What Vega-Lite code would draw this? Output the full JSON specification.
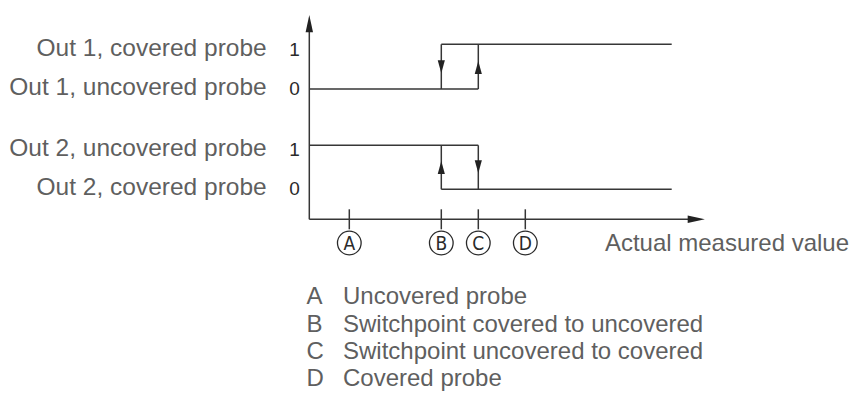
{
  "$schema": "https://vega.github.io/schema/vega-lite/v6.json",
  "width": 853,
  "height": 394,
  "autosize": {"type": "fit", "contains": "padding"},
  "padding": 0,
  "background": "white",
  "config": {"view": {"stroke": null}, "text": {"font": "Liberation Sans"}},
  "datasets": {
    "segments": [
      {"part": "Out 1 low", "x": 0, "x2": 4.225, "y": 13.03, "y2": 13.03},
      {"part": "Out 1 high", "x": 3.3, "x2": 9.06, "y": 17.5, "y2": 17.5},
      {"part": "Out 1 B", "x": 3.3, "x2": 3.3, "y": 13.03, "y2": 17.5},
      {"part": "Out 1 C", "x": 4.225, "x2": 4.225, "y": 13.03, "y2": 17.5},
      {"part": "Out 2 high", "x": 0, "x2": 4.225, "y": 7.4, "y2": 7.4},
      {"part": "Out 2 low", "x": 3.3, "x2": 9.06, "y": 3.0, "y2": 3.0},
      {"part": "Out 2 B", "x": 3.3, "x2": 3.3, "y": 3.0, "y2": 7.4},
      {"part": "Out 2 C", "x": 4.225, "x2": 4.225, "y": 3.0, "y2": 7.4},
      {"part": "y axis", "x": 0, "x2": 0, "y": 0, "y2": 19.6},
      {"part": "x axis", "x": 0, "x2": 9.6, "y": 0, "y2": 0},
      {"part": "tick A", "x": 1.0, "x2": 1.0, "y": -1.0, "y2": 1.0},
      {"part": "tick B", "x": 3.3, "x2": 3.3, "y": -1.0, "y2": 1.0},
      {"part": "tick C", "x": 4.225, "x2": 4.225, "y": -1.0, "y2": 1.0},
      {"part": "tick D", "x": 5.4, "x2": 5.4, "y": -1.0, "y2": 1.0}
    ],
    "arrows": [
      {"x": 0, "y": 20.43, "dir": "axis-up"},
      {"x": 9.89, "y": 0, "dir": "axis-right"},
      {"x": 3.3, "y": 14.6, "dir": "down"},
      {"x": 4.225, "y": 15.83, "dir": "up"},
      {"x": 3.3, "y": 5.83, "dir": "up"},
      {"x": 4.225, "y": 4.6, "dir": "down"}
    ],
    "levels": [
      {"label": "Out 1, covered probe", "bit": "1", "y": 16.33},
      {"label": "Out 1, uncovered probe", "bit": "0", "y": 12.43},
      {"label": "Out 2, uncovered probe", "bit": "1", "y": 6.33},
      {"label": "Out 2, covered probe", "bit": "0", "y": 2.43}
    ],
    "points": [
      {"point": "A", "x": 1.0},
      {"point": "B", "x": 3.3},
      {"point": "C", "x": 4.225},
      {"point": "D", "x": 5.4}
    ],
    "title": [{"title": "Actual measured value"}],
    "legend": [
      {"letter": "A", "description": "Uncovered probe", "y": -8.45},
      {"letter": "B", "description": "Switchpoint covered to uncovered", "y": -11.24},
      {"letter": "C", "description": "Switchpoint uncovered to covered", "y": -13.99},
      {"letter": "D", "description": "Covered probe", "y": -16.66}
    ]
  },
  "layer": [
    {
      "data": {"name": "segments"},
      "mark": {"type": "rule", "color": "#363636", "strokeWidth": 1.5},
      "encoding": {
        "x": {"field": "x", "type": "quantitative", "scale": {"domain": [-7.7325, 13.5925], "nice": false, "zero": false}, "axis": null},
        "x2": {"field": "x2"},
        "y": {"field": "y", "type": "quantitative", "scale": {"domain": [-17.47, 21.93], "nice": false, "zero": false}, "axis": null},
        "y2": {"field": "y2"}
      }
    },
    {
      "data": {"name": "arrows"},
      "mark": {"type": "point", "filled": true, "color": "#222222", "opacity": 1, "size": 169},
      "encoding": {
        "x": {"field": "x", "type": "quantitative", "scale": {"domain": [-7.7325, 13.5925], "nice": false, "zero": false}, "axis": null},
        "y": {"field": "y", "type": "quantitative", "scale": {"domain": [-17.47, 21.93], "nice": false, "zero": false}, "axis": null},
        "shape": {
          "field": "dir", "type": "nominal", "legend": null,
          "scale": {
            "domain": ["up", "down", "axis-up", "axis-right"],
            "range": ["M0,0L0.55,2L-0.55,2Z", "M0,0L0.55,-2L-0.55,-2Z", "M0,0L0.57,2.65L-0.57,2.65Z", "M0,0L-2.65,0.57L-2.65,-0.57Z"]
          }
        }
      }
    },
    {
      "data": {"name": "levels"},
      "mark": {"type": "text", "align": "right", "baseline": "alphabetic", "fontSize": 24.5, "color": "#5f5f5f"},
      "encoding": {
        "x": {"datum": -1.065, "type": "quantitative", "scale": {"domain": [-7.7325, 13.5925], "nice": false, "zero": false}, "axis": null},
        "y": {"field": "y", "type": "quantitative", "scale": {"domain": [-17.47, 21.93], "nice": false, "zero": false}, "axis": null},
        "text": {"field": "label"}
      }
    },
    {
      "data": {"name": "levels"},
      "mark": {"type": "text", "align": "center", "baseline": "alphabetic", "fontSize": 19, "color": "#2a2a2a"},
      "encoding": {
        "x": {"datum": -0.37, "type": "quantitative", "scale": {"domain": [-7.7325, 13.5925], "nice": false, "zero": false}, "axis": null},
        "y": {"field": "y", "type": "quantitative", "scale": {"domain": [-17.47, 21.93], "nice": false, "zero": false}, "axis": null},
        "text": {"field": "bit"}
      }
    },
    {
      "data": {"name": "points"},
      "mark": {"type": "point", "shape": "circle", "size": 560, "filled": false, "stroke": "#2a2a2a", "strokeWidth": 1.3, "opacity": 1},
      "encoding": {
        "x": {"field": "x", "type": "quantitative", "scale": {"domain": [-7.7325, 13.5925], "nice": false, "zero": false}, "axis": null},
        "y": {"datum": -2.37, "type": "quantitative", "scale": {"domain": [-17.47, 21.93], "nice": false, "zero": false}, "axis": null}
      }
    },
    {
      "data": {"name": "points"},
      "mark": {"type": "text", "align": "center", "baseline": "middle", "dy": 1, "fontSize": 19, "font": "DejaVu Sans Condensed", "color": "#2a2a2a"},
      "encoding": {
        "x": {"field": "x", "type": "quantitative", "scale": {"domain": [-7.7325, 13.5925], "nice": false, "zero": false}, "axis": null},
        "y": {"datum": -2.37, "type": "quantitative", "scale": {"domain": [-17.47, 21.93], "nice": false, "zero": false}, "axis": null},
        "text": {"field": "point"}
      }
    },
    {
      "data": {"name": "title"},
      "mark": {"type": "text", "align": "left", "baseline": "alphabetic", "fontSize": 24, "color": "#5f5f5f"},
      "encoding": {
        "x": {"datum": 7.39, "type": "quantitative", "scale": {"domain": [-7.7325, 13.5925], "nice": false, "zero": false}, "axis": null},
        "y": {"datum": -3.17, "type": "quantitative", "scale": {"domain": [-17.47, 21.93], "nice": false, "zero": false}, "axis": null},
        "text": {"field": "title"}
      }
    },
    {
      "data": {"name": "legend"},
      "mark": {"type": "text", "align": "left", "baseline": "alphabetic", "fontSize": 24, "color": "#5f5f5f"},
      "encoding": {
        "x": {"datum": -0.07, "type": "quantitative", "scale": {"domain": [-7.7325, 13.5925], "nice": false, "zero": false}, "axis": null},
        "y": {"field": "y", "type": "quantitative", "scale": {"domain": [-17.47, 21.93], "nice": false, "zero": false}, "axis": null},
        "text": {"field": "letter"}
      }
    },
    {
      "data": {"name": "legend"},
      "mark": {"type": "text", "align": "left", "baseline": "alphabetic", "fontSize": 24, "color": "#5f5f5f"},
      "encoding": {
        "x": {"datum": 0.8425, "type": "quantitative", "scale": {"domain": [-7.7325, 13.5925], "nice": false, "zero": false}, "axis": null},
        "y": {"field": "y", "type": "quantitative", "scale": {"domain": [-17.47, 21.93], "nice": false, "zero": false}, "axis": null},
        "text": {"field": "description"}
      }
    }
  ]
}
